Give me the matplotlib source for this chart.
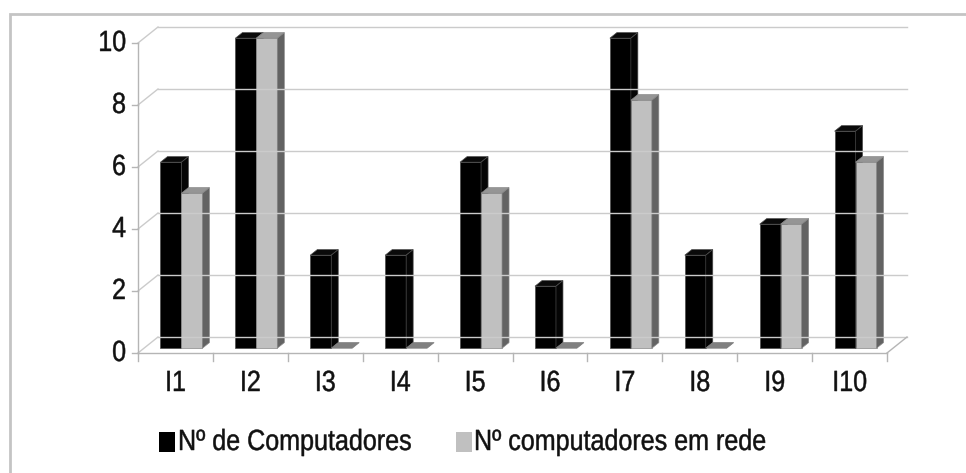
import matplotlib
matplotlib.use("Agg")
import matplotlib.pyplot as plt
from matplotlib.patches import Polygon, Rectangle
from matplotlib.lines import Line2D
from matplotlib.patheffects import AbstractPathEffect
from matplotlib.transforms import ScaledTranslation, Affine2D
import numpy as np

plt.rcParams['font.family'] = ['Liberation Sans', 'DejaVu Sans']

categories = ["I1", "I2", "I3", "I4", "I5", "I6", "I7", "I8", "I9", "I10"]
computadores = [6, 10, 3, 3, 6, 2, 10, 3, 4, 7]
em_rede = [5, 10, 0, 0, 5, 0, 8, 0, 4, 6]
series_names = ["Nº de Computadores", "Nº computadores em rede"]
y_ticks = [0, 2, 4, 6, 8, 10]

W, H, DPI = 966, 473, 100
FS = 21
SQUEEZE = 0.86   # narrow lettering
TXT = "#111111"


class Narrow(AbstractPathEffect):
    """Compress glyphs horizontally about a fixed display x position."""

    def __init__(self, x0, sx=SQUEEZE, weight=0.35):
        super().__init__()
        self.x0 = x0
        self.sx = sx
        self.weight = weight

    def draw_path(self, renderer, gc, tpath, affine, rgbFace=None):
        squeeze = Affine2D().translate(-self.x0, 0).scale(self.sx, 1).translate(self.x0, 0)
        gc0 = renderer.new_gc()
        gc0.copy_properties(gc)
        gc0.set_linewidth(self.weight)
        if rgbFace is not None:
            gc0.set_foreground(rgbFace)
        renderer.draw_path(gc0, tpath, affine + squeeze, rgbFace)
        gc0.restore()


fig = plt.figure(figsize=(W / DPI, H / DPI), dpi=DPI)
fig.patch.set_facecolor("white")

# outer chart frame (top and left edges visible)
frame = Rectangle((9.5 / W, -0.2), 1.2, 1.2 - 13.5 / H,
                  transform=fig.transFigure, fill=False,
                  edgecolor="#c4c4c4", linewidth=2.0)
fig.add_artist(frame)

# front plane of the 3D box
ax = fig.add_axes([138 / W, (H - 353) / H, (887 - 138) / W, (353 - 43) / H])
ax.set_xlim(0, len(categories))
ax.set_ylim(0, 10)
ax.axis("off")

DEPTH = np.array([20.0, 16.0])  # wall depth in pixels (right, up)


def proj(x, y, d):
    """Data point on the front plane pushed back by depth fraction d."""
    p = ax.transData.transform((x, y))
    return p + d * DEPTH


def poly(points, **kw):
    ax.add_patch(Polygon(np.array(points), closed=True, transform=None,
                         clip_on=False, **kw))


def line(p0, p1, **kw):
    ax.add_line(Line2D([p0[0], p1[0]], [p0[1], p1[1]], transform=None,
                       clip_on=False, **kw))


grid_c = "#cbcbcb"
axis_c = "#b5b5b5"
n = len(categories)

# back wall gridlines and left wall diagonals
for v in y_ticks:
    line(proj(0, v, 1), proj(n, v, 1), color=grid_c, lw=1.0)
    line(proj(0, v, 0), proj(0, v, 1), color=grid_c, lw=1.0)

# floor edges
line(proj(0, 0, 0), proj(n, 0, 0), color=axis_c, lw=1.0)
line(proj(n, 0, 0), proj(n, 0, 1), color=axis_c, lw=1.0)

# value axis, ticks and labels
line(proj(0, 0, 0), proj(0, 10, 0), color=axis_c, lw=1.0)
for v in y_ticks:
    p = proj(0, v, 0)
    line(p, p - np.array([6, 0]), color=axis_c, lw=1.0)
    ax.text(0, v, str(v),
            transform=ax.transData + ScaledTranslation(-12 / DPI, 0, fig.dpi_scale_trans),
            ha="right", va="center", fontsize=FS, color=TXT,
            path_effects=[Narrow(p[0] - 12)])

# category ticks and labels
for k in range(n + 1):
    p = proj(k, 0, 0)
    line(p, p - np.array([0, 8]), color=axis_c, lw=1.0)
for i, lab in enumerate(categories):
    cx = proj(i + 0.5, 0, 0)[0]
    ax.text(i + 0.5, 0, lab,
            transform=ax.transData + ScaledTranslation(0, -30 / DPI, fig.dpi_scale_trans),
            ha="center", va="center", fontsize=FS, color=TXT,
            path_effects=[Narrow(cx)])

# bars
styles = [
    dict(x0=0.22, x1=0.50, front="#000000", top="#0a0a0a", side="#050505", edge="#4a4a4a"),
    dict(x0=0.50, x1=0.78, front="#c0c0c0", top="#959595", side="#636363", edge="#8a8a8a"),
]
f0, f1 = 0.3, 0.65
for i in range(n):
    for vals, st in zip([computadores, em_rede], styles):
        v = vals[i]
        x0, x1 = i + st["x0"], i + st["x1"]
        if v == 0:
            poly([proj(x0, 0, f0), proj(x1, 0, f0), proj(x1, 0, f1), proj(x0, 0, f1)],
                 facecolor="#808080", edgecolor="#7a7a7a", lw=0.5)
            continue
        poly([proj(x0, 0, f0), proj(x1, 0, f0), proj(x1, v, f0), proj(x0, v, f0)],
             facecolor=st["front"], edgecolor=st["edge"], lw=0.5)
        poly([proj(x0, v, f0), proj(x1, v, f0), proj(x1, v, f1), proj(x0, v, f1)],
             facecolor=st["top"], edgecolor=st["edge"], lw=0.5)
        poly([proj(x1, 0, f0), proj(x1, 0, f1), proj(x1, v, f1), proj(x1, v, f0)],
             facecolor=st["side"], edgecolor=st["edge"], lw=0.5)

# legend
leg_items = [(159, 178, "#000000"), (456, 474, "#c0c0c0")]
for (sx, tx, col), name in zip(leg_items, series_names):
    fig.add_artist(Rectangle((sx / W, (H - 452) / H), 16 / W, 20 / H,
                             transform=fig.transFigure, facecolor=col, edgecolor="none"))
    fig.text(tx / W, (H - 442) / H, name, ha="left", va="center",
             fontsize=FS, color=TXT, path_effects=[Narrow(tx)])

fig.savefig("out.png", dpi=DPI, facecolor="white")
